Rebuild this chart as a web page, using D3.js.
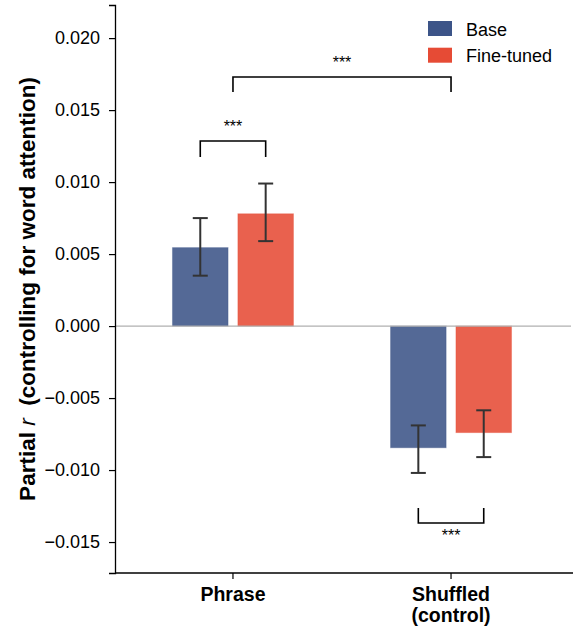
<!DOCTYPE html>
<html>
<head>
<meta charset="utf-8">
<script src="https://cdn.jsdelivr.net/npm/d3@7"></script>
<style>
  body { margin: 0; background: #fff; }
  svg text { font-family: "Liberation Sans", Arial, sans-serif; }
</style>
</head>
<body>
<svg id="chart" width="573" height="630"></svg>
<script>
// data
const categories = ["Phrase", "Shuffled\n(control)"];
const seriesNames = ["Base", "Fine-tuned"];
const baseValues = [0.00545, -0.00845];
const baseLow = [0.0035, -0.0102];
const baseHigh = [0.0075, -0.0069];
const ftValues = [0.0078, -0.0074];
const ftLow = [0.0059, -0.0091];
const ftHigh = [0.0099, -0.00585];
const yTicks = [-0.015, -0.010, -0.005, 0.000, 0.005, 0.010, 0.015, 0.020];
const colors = ["#3C5488", "#E64B35"];

const svg = d3.select("#chart");
const margin = { left: 115, top: 5, right: 0, bottom: 57 };
const W = 573, H = 630;

const y = d3.scaleLinear()
  .domain([-0.01715, 0.0223])
  .range([H - margin.bottom, margin.top]);

const x = d3.scaleBand()
  .domain(categories)
  .range([margin.left, W - 4])
  .paddingInner(0.0)
  .paddingOuter(0.041);

// inner band for the two bars of each group
const groupW = 121;
const xs = d3.scaleBand()
  .domain(seriesNames)
  .range([0, groupW])
  .paddingInner(0.15);

const groupCenter = c => x(c) + x.bandwidth() / 2;

// rows for the bars
const rows = [];
categories.forEach((c, i) => {
  rows.push({ cat: c, s: "Base", v: baseValues[i], lo: baseLow[i], hi: baseHigh[i], col: colors[0] });
  rows.push({ cat: c, s: "Fine-tuned", v: ftValues[i], lo: ftLow[i], hi: ftHigh[i], col: colors[1] });
});
const barX = d => groupCenter(d.cat) - groupW / 2 + xs(d.s);
const barMid = d => barX(d) + xs.bandwidth() / 2;

// bars
svg.append("g")
  .selectAll("rect")
  .data(rows)
  .join("rect")
  .attr("x", barX)
  .attr("width", xs.bandwidth())
  .attr("y", d => y(Math.max(0, d.v)))
  .attr("height", d => Math.abs(y(d.v) - y(0)))
  .attr("fill", d => d.col)
  .attr("fill-opacity", 0.88)
  .attr("stroke", d => d.col)
  .attr("stroke-opacity", 0.35)
  .attr("stroke-width", 1);

// zero line
svg.append("line")
  .attr("x1", margin.left).attr("x2", W - 2)
  .attr("y1", y(0)).attr("y2", y(0))
  .attr("stroke", "#b0b0b0")
  .attr("stroke-width", 1.2);

// error bars
const err = svg.append("g").attr("stroke", "#333").attr("stroke-width", 2);
err.selectAll("line.v")
  .data(rows)
  .join("line")
  .attr("class", "v")
  .attr("x1", barMid).attr("x2", barMid)
  .attr("y1", d => y(d.lo)).attr("y2", d => y(d.hi));
err.selectAll("line.capHi")
  .data(rows)
  .join("line")
  .attr("class", "capHi")
  .attr("x1", d => barMid(d) - 7.5).attr("x2", d => barMid(d) + 7.5)
  .attr("y1", d => y(d.hi)).attr("y2", d => y(d.hi));
err.selectAll("line.capLo")
  .data(rows)
  .join("line")
  .attr("class", "capLo")
  .attr("x1", d => barMid(d) - 7.5).attr("x2", d => barMid(d) + 7.5)
  .attr("y1", d => y(d.lo)).attr("y2", d => y(d.lo));

// y axis
const yAxis = svg.append("g")
  .attr("transform", `translate(${margin.left},0)`)
  .call(d3.axisLeft(y).tickValues(yTicks).tickSize(6).tickPadding(9)
    .tickFormat(d => d3.format(".3f")(d).replace("-", "\u2212")));
yAxis.select(".domain").attr("stroke", "#000").attr("stroke-width", 1.3);
yAxis.selectAll(".tick line").attr("stroke", "#000").attr("stroke-width", 1.2);
yAxis.selectAll(".tick text").attr("font-size", 18).attr("fill", "#000")
  .style("font-family", "'Liberation Sans', Arial, sans-serif");

// x axis
const xAxis = svg.append("g")
  .attr("transform", `translate(0,${H - margin.bottom})`)
  .call(d3.axisBottom(x).tickSize(6).tickFormat(""));
xAxis.select(".domain").attr("stroke", "#000").attr("stroke-width", 1.3)
  .attr("d", `M${margin.left},0H${W}`);
xAxis.selectAll(".tick line").attr("stroke", "#000").attr("stroke-width", 1.2);

// x labels
categories.forEach(c => {
  const t = svg.append("text")
    .attr("x", groupCenter(c))
    .attr("y", 601)
    .attr("text-anchor", "middle")
    .attr("font-size", 19.5)
    .attr("font-weight", "bold")
    .attr("fill", "#000");
  c.split("\n").forEach((line, i) => {
    t.append("tspan").attr("x", groupCenter(c)).attr("dy", i === 0 ? 0 : 21).text(line);
  });
});

// y label
const yl = svg.append("text")
  .attr("transform", `translate(35,${(y.range()[0] + y.range()[1]) / 2}) rotate(-90)`)
  .attr("text-anchor", "middle")
  .attr("font-size", 22.5)
  .attr("font-weight", "bold")
  .attr("fill", "#000");
yl.append("tspan").text("Partial ");
yl.append("tspan").attr("font-style", "italic").attr("font-weight", "normal").text("r");
yl.append("tspan").text("\u00a0 (controlling for word attention)");

// significance brackets
const brk = svg.append("g").attr("stroke", "#000").attr("stroke-width", 1.6).attr("fill", "none");
function bracket(x1, x2, yb, yLeg, label, below) {
  brk.append("path").attr("d", `M${x1},${yLeg}V${yb}H${x2}V${yLeg}`);
  svg.append("text")
    .attr("x", (x1 + x2) / 2)
    .attr("y", below ? yb + 18 : yb - 9)
    .attr("text-anchor", "middle")
    .attr("font-size", 16)
    .attr("fill", "#000")
    .text(label);
}
const r0 = rows[0], r1 = rows[1], r2 = rows[2], r3 = rows[3];
bracket(barMid(r0), barMid(r1), 141, 157, "***", false);
bracket(groupCenter(categories[0]), groupCenter(categories[1]), 77, 92, "***", false);
bracket(barMid(r2), barMid(r3), 523, 508, "***", true);

// legend
const lg = svg.append("g").attr("transform", "translate(428,21)");
seriesNames.forEach((s, i) => {
  lg.append("rect").attr("x", 0).attr("y", i * 26.7).attr("width", 24).attr("height", 15)
    .attr("fill", colors[i]);
  lg.append("text").attr("x", 38).attr("y", i * 26.7 + 14.5)
    .attr("font-size", 18).attr("fill", "#000").text(s);
});
</script>
</body>
</html>
